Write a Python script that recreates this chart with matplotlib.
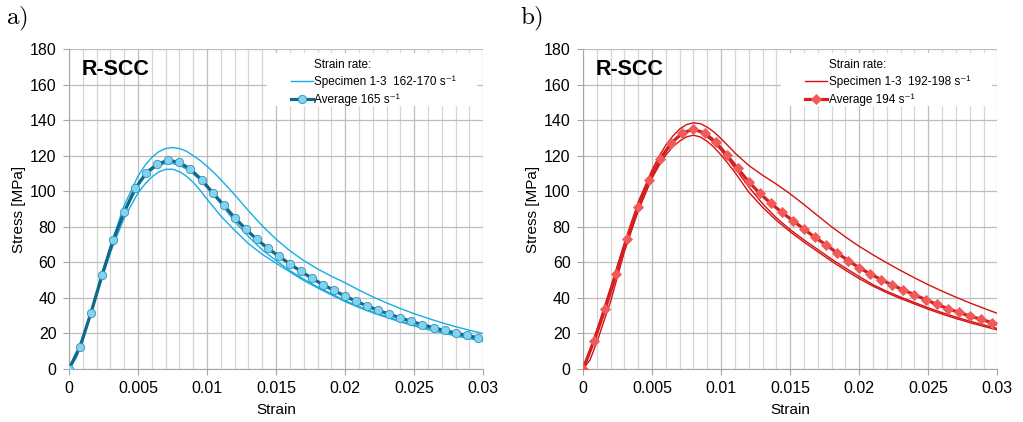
import matplotlib
matplotlib.use('Agg')
import matplotlib.pyplot as plt
from matplotlib.lines import Line2D
from matplotlib.patches import Rectangle
from matplotlib.ticker import FixedLocator

plt.rcParams['font.family'] = ['Liberation Sans', 'DejaVu Sans']
plt.rcParams['mathtext.fontset'] = 'cm'

# strain points of the single specimen curves
strain = [0.0, 0.0005, 0.001, 0.002, 0.003, 0.004, 0.005, 0.0055, 0.006, 0.0065,
          0.007, 0.0075, 0.008, 0.0085, 0.009, 0.0095, 0.010, 0.0105, 0.011, 0.012,
          0.013, 0.014, 0.015, 0.016, 0.017, 0.018, 0.019, 0.020, 0.021, 0.022,
          0.023, 0.024, 0.025, 0.026, 0.027, 0.028, 0.029, 0.030]

# strain points of the averaged curves (markers every 0.0008)
avg_strain = [0.0, 0.0008, 0.0016, 0.0024, 0.0032, 0.004, 0.0048, 0.0056, 0.0064, 0.0072,
              0.008, 0.0088, 0.0096, 0.0104, 0.0112, 0.012, 0.0128, 0.0136, 0.0144, 0.0152,
              0.016, 0.0168, 0.0176, 0.0184, 0.0192, 0.02, 0.0208, 0.0216, 0.0224, 0.0232,
              0.024, 0.0248, 0.0256, 0.0264, 0.0272, 0.028, 0.0288, 0.0296, 0.03]

x_ticks = [0, 0.005, 0.01, 0.015, 0.02, 0.025, 0.03]
x_ticklabels = ['0', '0.005', '0.01', '0.015', '0.02', '0.025', '0.03']
x_minor = [0.001, 0.002, 0.003, 0.004, 0.006, 0.007, 0.008, 0.009, 0.011, 0.012, 0.013,
           0.014, 0.016, 0.017, 0.018, 0.019, 0.021, 0.022, 0.023, 0.024, 0.026, 0.027,
           0.028, 0.029]
y_ticks = [0, 20, 40, 60, 80, 100, 120, 140, 160, 180]

# a) R-SCC, strain rate 162-170 1/s
a_spec1 = [0, 6, 16, 42, 69, 92, 108.5, 114.5, 119, 122.2,
           124, 124.6, 124, 122.5, 120, 117.3, 114, 110.4, 106.5, 98,
           89, 80.5, 73, 66.5, 61, 56.3, 52.2, 48.5, 44.4, 40.6,
           37.2, 34, 31.1, 28.5, 26, 23.8, 21.8, 19.9]
a_spec2 = [0, 6.5, 17, 42.5, 67.5, 88, 103, 108.2, 112, 114.5,
           115.5, 115.6, 114.5, 112.5, 109.8, 106.3, 102, 97.5, 93, 83,
           74.5, 67, 61, 55.3, 50.5, 46.2, 42.3, 38.5, 35.2, 32.2,
           29.5, 27, 24.7, 22.7, 20.9, 19.1, 17.6, 16.1]
a_spec3 = [0, 6, 16, 41, 65.5, 85, 99, 104, 108, 110.8,
           112.3, 112.4, 111, 108.5, 105, 100.5, 95.5, 90.8, 86, 78,
           70.5, 64.5, 59.5, 54.6, 49.8, 45.6, 41.7, 37.9, 34.6, 31.6,
           29, 26.5, 24.2, 22.2, 20.4, 18.6, 17.1, 15.6]
a_avg = [0, 12.5, 31.7, 53, 72.4, 88.3, 101.6, 110.4, 115.3, 117.4,
         116.2, 112.3, 106.5, 99.2, 92.2, 85.1, 78.7, 72.9, 67.9, 63.4,
         59.1, 54.9, 51, 47.4, 44.2, 40.9, 38.1, 35.4, 33, 30.8,
         28.7, 26.8, 24.9, 23.2, 21.7, 20.2, 18.9, 17.6, 17.0]

# b) R-SCC, strain rate 192-198 1/s
b_spec1 = [0, 11, 22, 46, 71, 94, 112, 119.5, 126, 131,
           135, 137.5, 138.5, 138, 136, 133.2, 129.5, 125.6, 121.5, 114.5,
           109, 104, 98.5, 92.5, 86.2, 80, 74.3, 69, 64.2, 59.7,
           55.4, 51.3, 47.4, 43.8, 40.4, 37.2, 34.2, 31.3]
b_spec2 = [0, 9, 20.5, 43, 67.2, 90, 108.5, 115.8, 122, 127.2,
           131, 133.5, 134.4, 133.4, 130.5, 127.2, 123, 118.2, 113, 102.5,
           93, 85, 78.4, 72.6, 67.2, 61.8, 56.8, 52, 47.4, 43.7,
           40.4, 37.4, 34.4, 31.7, 29.2, 26.9, 24.8, 22.8]
b_spec3 = [0, 5, 15, 38, 66.1, 89, 107.4, 114.3, 120.4, 125,
           128.2, 130.6, 131.5, 130.5, 128, 124.6, 120.3, 115.6, 110.6, 99.5,
           91, 83.6, 77.2, 71.4, 66, 60.6, 55.6, 50.8, 46.6, 42.9,
           39.6, 36.6, 33.6, 30.9, 28.4, 26.1, 24, 22]
b_avg = [0, 15.8, 33.6, 53.4, 73, 91, 106.3, 118.4, 127.2, 132.8,
         134.8, 132.8, 127.7, 120.5, 112.8, 105.3, 98.8, 93.2, 88.1, 83.4,
         78.7, 74, 69.8, 65.3, 61, 56.9, 53.5, 50.2, 47.2, 44.4,
         41.8, 39, 36.4, 34, 31.9, 29.8, 28, 26.1, 25.2]

panels = [
    dict(tag='a)', specs=[a_spec1, a_spec2, a_spec3], avg=a_avg,
         c_spec='#12AEE8', c_avg='#136788', c_mk='#7FD4F2', mec='#3C8FB0', marker='o', ms=6,
         lab_spec='Specimen 1-3  162-170 s⁻¹', lab_avg='Average 165 s⁻¹'),
    dict(tag='b)', specs=[b_spec1, b_spec2, b_spec3], avg=b_avg,
         c_spec='#D41010', c_avg='#D42020', c_mk='#F25A5A', mec='#F25A5A', marker='D', ms=5,
         lab_spec='Specimen 1-3  192-198 s⁻¹', lab_avg='Average 194 s⁻¹'),
]

fig = plt.figure(figsize=(10.23, 4.22), dpi=100)
lefts = [0.0674, 0.5699]

for p, left in zip(panels, lefts):
    ax = fig.add_axes([left, 0.1256, 0.405, 0.7583])
    for s in p['specs']:
        ax.plot(strain, s, color=p['c_spec'], lw=1.0, zorder=3)
    ax.plot(avg_strain, p['avg'], color=p['c_avg'], lw=2.3, zorder=4,
            marker=p['marker'], ms=p['ms'], mfc=p['c_mk'], mec=p['mec'],
            mew=0.6, markevery=list(range(len(avg_strain) - 1)))

    ax.set_xlim(0, 0.03)
    ax.set_ylim(0, 180)
    ax.xaxis.set_major_locator(FixedLocator(x_ticks))
    ax.xaxis.set_minor_locator(FixedLocator(x_minor))
    ax.set_xticklabels(x_ticklabels)
    ax.set_yticks(y_ticks)
    ax.grid(which='major', color='#BDBDBD', lw=0.9, zorder=0)
    ax.grid(which='minor', axis='x', color='#D6D6D6', lw=0.9, zorder=0)
    ax.set_axisbelow(True)
    for side in ['top', 'right']:
        ax.spines[side].set_visible(False)
    for side in ['left', 'bottom']:
        ax.spines[side].set_color('#A6A6A6')
    ax.tick_params(which='both', color='#A6A6A6', labelsize=11.5, length=4, pad=5)
    ax.tick_params(which='minor', length=0)
    ax.set_xlabel('Strain', fontsize=11, labelpad=5)
    ax.set_ylabel('Stress [MPa]', fontsize=11, labelpad=3)

    ax.text(0.03, 0.935, 'R-SCC', transform=ax.transAxes, fontsize=15.5,
            fontweight='bold', va='center', ha='left')

    # white plate behind the legend hides the grid
    ax.add_patch(Rectangle((0.478, 0.822), 0.508, 0.166, transform=ax.transAxes,
                           facecolor='white', edgecolor='none', zorder=2))
    handles = [Line2D([], [], lw=0),
               Line2D([], [], color=p['c_spec'], lw=1.0),
               Line2D([], [], color=p['c_avg'], lw=2.3, marker=p['marker'], ms=p['ms'],
                      mfc=p['c_mk'], mec=p['mec'], mew=0.6)]
    ax.legend(handles, ['Strain rate:', p['lab_spec'], p['lab_avg']],
              loc='upper left', bbox_to_anchor=(0.52, 0.99), fontsize=8.5,
              frameon=False, borderaxespad=0, handlelength=1.9,
              handletextpad=0.1, labelspacing=0.45, borderpad=0.55)

    fig.text(left - 0.062, 0.955, r'$\mathrm{' + p['tag'] + '}$', fontsize=18, va='center')

fig.savefig('out.png', dpi=100)
